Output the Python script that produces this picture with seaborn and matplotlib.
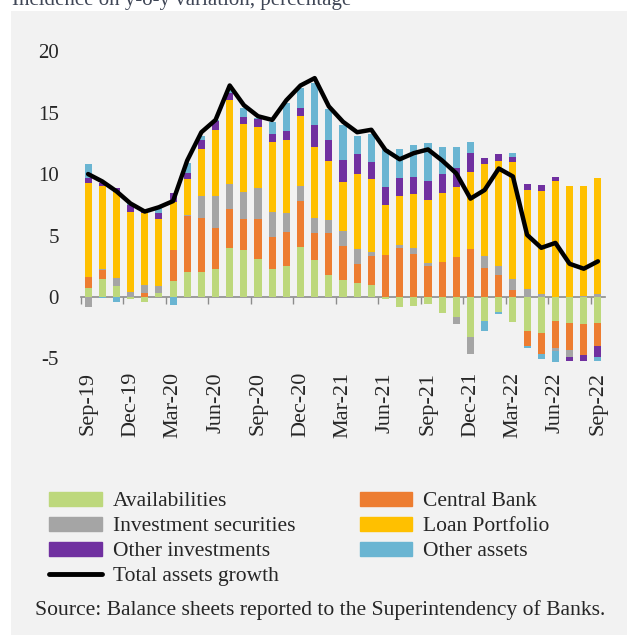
import numpy as np
import pandas as pd
from matplotlib import pyplot as plt
from matplotlib.patches import Rectangle, Patch
from matplotlib.lines import Line2D
import seaborn as sns

# months Sep-19 .. Sep-22
months = list(pd.date_range('2019-09-01', '2022-09-01', freq='MS').strftime('%b-%y'))

availabilities = [0.7, 1.44, 0.92, -0.15, -0.38, 0.35, 1.3, 2.0, 2.06, 2.28, 3.96, 3.8, 3.09,
                  2.27, 2.55, 4.07, 2.98, 1.79, 1.38, 1.11, 0.96, -0.16, -0.84, -0.73, -0.6,
                  -1.27, -1.6, -3.22, -1.93, -1.25, -2.03, -2.76, -2.95, -1.95, -2.09, -2.17, -2.14]
central_bank = [0.9, 0.76, 0.0, 0.0, 0.35, 0.0, 2.5, 4.6, 4.39, 3.36, 3.17, 2.54, 3.25,
                2.57, 2.75, 3.73, 2.22, 3.41, 2.79, 1.57, 2.37, 3.41, 3.96, 3.5, 2.55,
                2.87, 3.28, 3.88, 2.38, 1.79, 0.57, -1.22, -1.68, -2.22, -2.21, -2.55, -1.84]
inv_securities = [-0.85, 0.1, 0.65, 0.43, 0.62, 0.55, 0.0, 0.1, 1.79, 2.6, 2.06, 2.2, 2.56,
                  2.1, 1.53, 1.2, 1.25, 1.03, 1.2, 1.22, 0.32, 0.0, 0.27, 0.46, 0.25,
                  0.0, -0.6, -1.41, 0.95, 0.76, 0.87, 0.62, 0.22, -0.19, -0.55, 0.1, 0.27]
loan_portfolio = [7.7, 6.7, 6.93, 6.5, 5.83, 5.44, 3.9, 2.9, 3.79, 5.36, 6.81, 5.5, 4.9,
                  5.66, 5.97, 5.74, 5.75, 4.83, 3.98, 6.07, 5.92, 4.07, 4.01, 4.39, 5.1,
                  5.56, 5.69, 6.31, 7.47, 8.53, 9.56, 8.08, 8.4, 9.43, 9.05, 8.9, 9.38]
other_investments = [0.4, 0.25, 0.4, 0.55, 0.3, 0.52, 0.73, 0.5, 0.73, 0.7, 0.6, 0.62, 0.67,
                     0.63, 0.7, 0.66, 1.76, 1.74, 1.79, 1.63, 1.43, 1.49, 1.46, 1.43, 1.53,
                     1.54, 1.49, 1.5, 0.47, 0.52, 0.4, 0.49, 0.48, 0.35, -0.35, -0.48, -0.87]
other_assets = [1.1, -0.1, -0.4, 0.15, 0.0, 0.44, -0.65, 0.77, 0.3, 0.1, 0.3, 0.74, 0.1,
                1.02, 2.25, 1.56, 3.44, 2.5, 2.86, 1.5, 2.27, 3.03, 2.3, 2.58, 3.12,
                2.2, 1.74, 0.9, -0.84, -0.13, 0.28, -0.14, -0.44, -0.9, 0.0, 0.0, -0.33]
total_growth = [10.0, 9.4, 8.6, 7.6, 6.95, 7.3, 7.8, 11.1, 13.4, 14.4, 17.2, 15.6, 14.7,
                14.4, 16.0, 17.2, 17.8, 15.5, 14.25, 13.4, 13.6, 11.95, 11.2, 11.7, 12.0,
                11.1, 10.05, 8.0, 8.7, 10.45, 9.8, 5.05, 4.0, 4.4, 2.7, 2.3, 2.9]

series = [
    ('Availabilities', availabilities, '#bdd87c'),
    ('Central Bank', central_bank, '#ed7d31'),
    ('Investment securities', inv_securities, '#a5a5a5'),
    ('Loan Portfolio', loan_portfolio, '#ffc000'),
    ('Other investments', other_investments, '#7030a0'),
    ('Other assets', other_assets, '#6ab5d2'),
]

sns.set_style("white")
plt.rcParams['font.family'] = ['Liberation Serif', 'DejaVu Serif']

fig = plt.figure(figsize=(6.27, 6.35), dpi=100)
fig.patch.set_facecolor('white')
fig.patches.append(Rectangle((11 / 627, 0), 1, 1 - 11 / 635, transform=fig.transFigure,
                             facecolor='#f2f2f2', edgecolor='none', zorder=-5))
# title is cut off at the top edge in the original as well
fig.text(12 / 627, 1 - 5 / 635, 'Incidence on y-o-y variation, percentage',
         fontsize=15, color='#3f4656', va='baseline')

ax = fig.add_axes([81 / 627, 1 - 365 / 635, 524 / 627, 325 / 635])
ax.set_facecolor('none')

x = np.arange(len(months))
pos_base = np.zeros(len(months))
neg_base = np.zeros(len(months))
for name, vals, color in series:
    v = np.array(vals)
    bottom = np.where(v >= 0, pos_base, neg_base)
    ax.bar(x, v, bottom=bottom, width=0.5, color=color, linewidth=0, zorder=2)
    pos_base = pos_base + np.clip(v, 0, None)
    neg_base = neg_base + np.clip(v, None, 0)

df_line = pd.DataFrame({'pos': x, 'growth': total_growth})
sns.lineplot(data=df_line, x='pos', y='growth', ax=ax, color='black', linewidth=3.2,
             solid_capstyle='round', solid_joinstyle='round', zorder=4)

ymin, ymax = -5.53, 20.9
ax.set_xlim(-0.5, len(months) - 0.5)
ax.set_ylim(ymin, ymax)
for s in ax.spines.values():
    s.set_visible(False)

ax.set_xticks(x[::3])
ax.set_xticklabels(months[::3], rotation=90, fontsize=16)
ax.tick_params(axis='x', length=0, pad=5)
ax.set_yticks([-5, 0, 5, 10, 15, 20])
ax.set_yticklabels(['-5', '0', '5', '10', '15', '20'], fontsize=15)
ax.tick_params(axis='y', length=0, pad=16)
ax.set_xlabel('')
ax.set_ylabel('')

# zero line with quarter ticks
sec = ax.secondary_xaxis((0 - ymin) / (ymax - ymin))
sec.set_alignment('bottom')
sec.set_xticks(np.arange(-0.5, len(months), 3))
sec.tick_params(axis='x', length=5, width=1, color='#8c8c8c', labelbottom=False, direction='out')
sec.spines['bottom'].set_color('#8c8c8c')
sec.spines['bottom'].set_linewidth(1.2)

handles = [Patch(color=c) for _, _, c in series]
labels = [n for n, _, _ in series]
order = [0, 2, 4, 'line', 1, 3, 5]
h2, l2 = [], []
for o in order:
    if o == 'line':
        h2.append(Line2D([], [], color='black', linewidth=3.5, solid_capstyle='round'))
        l2.append('Total assets growth')
    else:
        h2.append(handles[o])
        l2.append(labels[o])
fig.legend(h2, l2, ncol=2, loc='upper left', bbox_to_anchor=(49 / 627, 1 - 492 / 635),
           frameon=False, fontsize=15.5, handlelength=2.45, handleheight=0.6,
           handletextpad=0.5, columnspacing=3.0, labelspacing=0.26,
           borderpad=0, borderaxespad=0)

fig.text(35 / 627, 1 - 610 / 635,
         'Source: Balance sheets reported to the Superintendency of Banks.',
         fontsize=15.6, va='center')

plt.savefig('out.png', dpi=100)
